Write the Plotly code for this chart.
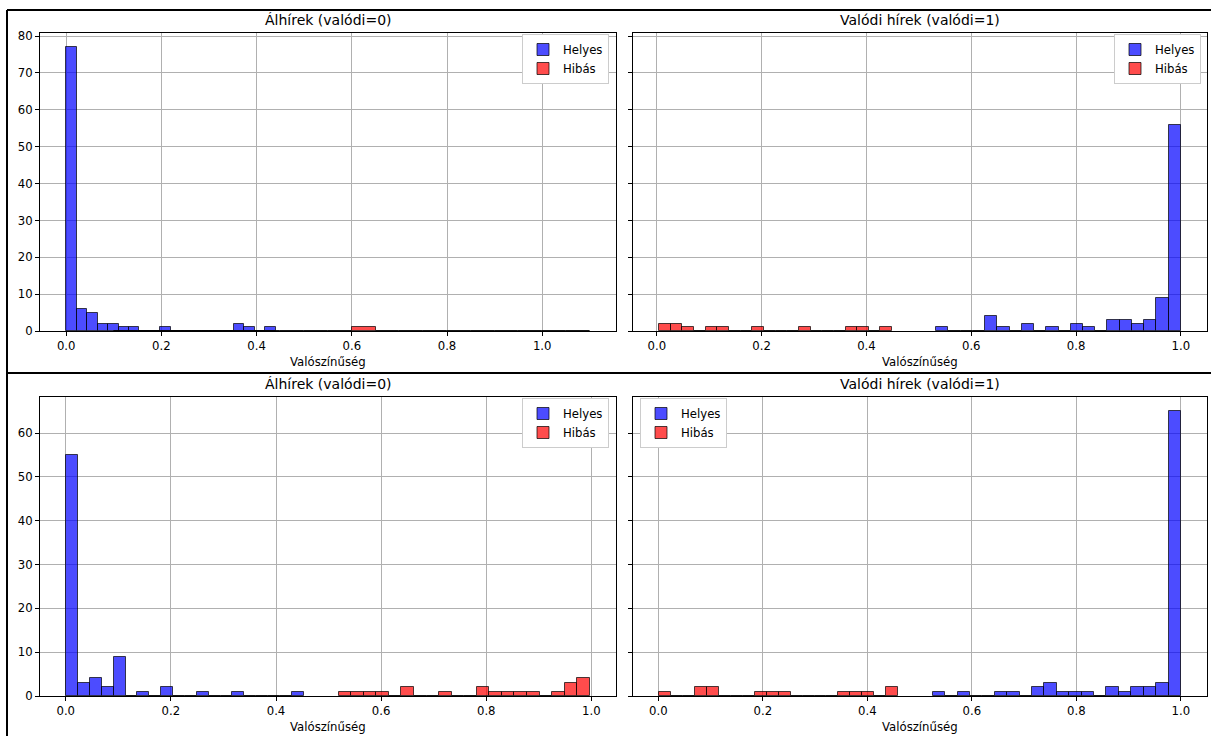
import numpy as np
import plotly.graph_objects as go

W, H = 1211, 736

# ---------------- data (histogram bin ranges + counts, 20 bins each) ----------------
titles = ["Álhírek (valódi=0)", "Valódi hírek (valódi=1)", "Álhírek (valódi=0)", "Valódi hírek (valódi=1)"]
series_names = ["Helyes", "Hibás"]
x_label = "Valószínűség"
x_tick_vals = [0.0, 0.2, 0.4, 0.6, 0.8, 1.0]
x_tick_text = ["0.0", "0.2", "0.4", "0.6", "0.8", "1.0"]

# top-left: Álhírek
p1_helyes_range = (0.0, 0.44)
p1_helyes_counts = [77, 6, 5, 2, 2, 1, 1, 0, 0, 1, 0, 0, 0, 0, 0, 0, 2, 1, 0, 1]
p1_hibas_range = (0.1, 1.1)
p1_hibas_counts = [0, 0, 0, 0, 0, 0, 0, 0, 0, 0, 1, 0, 0, 0, 0, 0, 0, 0, 0, 0]

# top-right: Valódi hírek
p2_helyes_range = (0.533, 1.0)
p2_helyes_counts = [1, 0, 0, 0, 4, 1, 0, 2, 0, 1, 0, 2, 1, 0, 3, 3, 2, 3, 9, 56]
p2_hibas_range = (0.0044, 0.449)
p2_hibas_counts = [2, 2, 1, 0, 1, 1, 0, 0, 1, 0, 0, 0, 1, 0, 0, 0, 1, 1, 0, 1]

# bottom-left: Álhírek
p3_helyes_range = (0.0008, 0.4527)
p3_helyes_counts = [55, 3, 4, 2, 9, 0, 1, 0, 2, 0, 0, 1, 0, 0, 1, 0, 0, 0, 0, 1]
p3_hibas_range = (0.519, 0.997)
p3_hibas_counts = [1, 1, 1, 1, 0, 2, 0, 0, 1, 0, 0, 2, 1, 1, 1, 1, 0, 1, 3, 4]

# bottom-right: Valódi hírek
p4_helyes_range = (0.525, 1.0)
p4_helyes_counts = [1, 0, 1, 0, 0, 1, 1, 0, 2, 3, 1, 1, 1, 0, 2, 1, 2, 2, 3, 65]
p4_hibas_range = (0.0013, 0.459)
p4_hibas_counts = [1, 0, 0, 2, 2, 0, 0, 0, 1, 1, 1, 0, 0, 0, 0, 1, 1, 1, 0, 2]

panels = [
    (p1_helyes_range, p1_helyes_counts, p1_hibas_range, p1_hibas_counts),
    (p2_helyes_range, p2_helyes_counts, p2_hibas_range, p2_hibas_counts),
    (p3_helyes_range, p3_helyes_counts, p3_hibas_range, p3_hibas_counts),
    (p4_helyes_range, p4_helyes_counts, p4_hibas_range, p4_hibas_counts),
]

# ---------------- styling / layout ----------------
FONT = "DejaVu Sans"
colors = ["rgba(0,0,255,0.7)", "rgba(255,0,0,0.7)"]
edge = "rgba(0,0,0,0.7)"

def px_x(p):
    return p / W

def px_y(p):
    return 1 - p / H

x_domains = [(40, 616), (633, 1207), (40, 616), (633, 1207)]
y_domains = [(33, 331), (33, 331), (397, 696), (397, 696)]
legend_pos = [(609, 34, "right"), (1201, 34, "right"), (609, 398, "right"), (640, 398, "left")]
title_y = [20, 20, 384, 384]
xlabel_y = [362, 362, 727, 727]

fig = go.Figure()
layout = dict()

row_ymax = {}
for i, (hr, hc, fr, fc) in enumerate(panels):
    row = i // 2
    row_ymax[row] = max(row_ymax.get(row, 0), max(hc), max(fc))

for i, (hr, hc, fr, fc) in enumerate(panels):
    n = i + 1
    xa = "x" if n == 1 else f"x{n}"
    ya = "y" if n == 1 else f"y{n}"
    leg = "legend" if n == 1 else f"legend{n}"
    data_min, data_max = [], []
    for k, (rng, cnt) in enumerate([(hr, hc), (fr, fc)]):
        edges = np.linspace(rng[0], rng[1], len(cnt) + 1)
        centers = (edges[:-1] + edges[1:]) / 2
        widths = np.diff(edges)
        data_min.append(edges[0]); data_max.append(edges[-1])
        fig.add_trace(go.Bar(
            x=centers, y=cnt, width=widths, name=series_names[k],
            marker=dict(color=colors[k], line=dict(color=edge, width=1)),
            xaxis=xa, yaxis=ya, legend=leg, showlegend=True,
        ))
    lo, hi = min(data_min), max(data_max)
    pad = 0.05 * (hi - lo)
    ymax = row_ymax[i // 2] * 1.05
    xd = x_domains[i]; yd = y_domains[i]
    common = dict(showline=True, mirror=True, linecolor="black", linewidth=1,
                  ticks="outside", ticklen=4, tickwidth=1, tickcolor="black",
                  showgrid=True, gridcolor="#b0b0b0", gridwidth=1, zeroline=False,
                  automargin=False,
                  tickfont=dict(family=FONT, size=11.7, color="black"))
    layout["xaxis" if n == 1 else f"xaxis{n}"] = dict(
        common, domain=[px_x(xd[0]), px_x(xd[1])], range=[lo - pad, hi + pad],
        anchor=ya, tickmode="array", tickvals=x_tick_vals, ticktext=x_tick_text)
    layout["yaxis" if n == 1 else f"yaxis{n}"] = dict(
        common, domain=[px_y(yd[1]), px_y(yd[0])], range=[0, ymax],
        anchor=xa, dtick=10, tick0=0, showticklabels=(n % 2 == 1))
    lx, ly, anc = legend_pos[i]
    layout[leg] = dict(x=px_x(lx), y=px_y(ly), xanchor=anc, yanchor="top",
                       bgcolor="white", bordercolor="#cccccc", borderwidth=1,
                       font=dict(family=FONT, size=11.7, color="black"),
                       tracegroupgap=0)

annotations = []
for i in range(4):
    xd = x_domains[i]
    cx = px_x((xd[0] + xd[1]) / 2)
    annotations.append(dict(text=titles[i], x=cx, y=px_y(title_y[i]), xref="paper", yref="paper",
                            xanchor="center", yanchor="middle", showarrow=False,
                            font=dict(family=FONT, size=14, color="black")))
    annotations.append(dict(text=x_label, x=cx, y=px_y(xlabel_y[i]), xref="paper", yref="paper",
                            xanchor="center", yanchor="middle", showarrow=False,
                            font=dict(family=FONT, size=11.7, color="black")))

shapes = [
    dict(type="line", xref="paper", yref="paper", x0=px_x(7), x1=1, y0=px_y(10), y1=px_y(10),
         line=dict(color="black", width=2)),
    dict(type="line", xref="paper", yref="paper", x0=px_x(7), x1=1, y0=px_y(373), y1=px_y(373),
         line=dict(color="black", width=2)),
    dict(type="line", xref="paper", yref="paper", x0=px_x(7), x1=px_x(7), y0=px_y(10), y1=0,
         line=dict(color="black", width=2)),
]

fig.update_layout(
    width=W, height=H, margin=dict(l=0, r=0, t=0, b=0, pad=0, autoexpand=False),
    paper_bgcolor="white", plot_bgcolor="white",
    barmode="overlay", bargap=0,
    font=dict(family=FONT, size=11.7, color="black"),
    annotations=annotations, shapes=shapes,
    **layout,
)

fig.write_html("out.html")
